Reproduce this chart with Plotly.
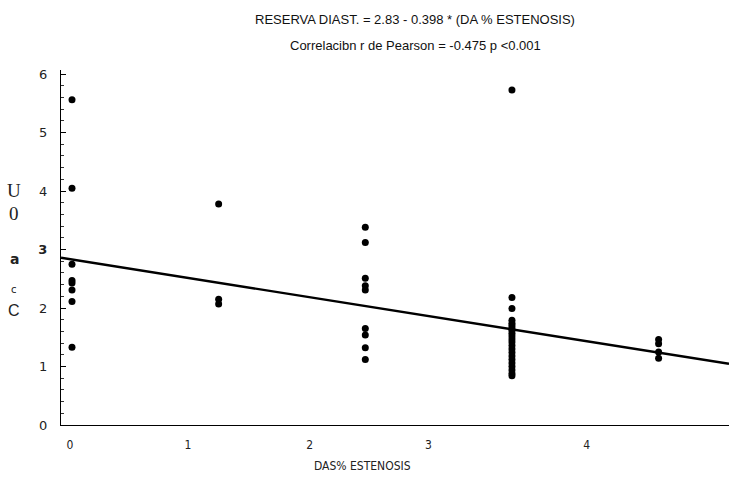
import plotly.graph_objects as go

# ---- data ----
das_categories = [0, 1, 2, 3, 4]
reserva_das0 = [5.56, 4.05, 2.75, 2.47, 2.43, 2.31, 2.11, 1.33]
reserva_das1 = [3.78, 2.15, 2.07]
reserva_das2 = [3.38, 3.12, 2.51, 2.38, 2.31, 1.65, 1.54, 1.32, 1.12]
reserva_das3 = [5.73, 2.18, 1.99, 1.79, 1.74, 1.70, 1.66, 1.62, 1.57, 1.52, 1.47,
                1.42, 1.36, 1.30, 1.24, 1.18, 1.12, 1.06, 1.00, 0.94, 0.88, 0.84]
reserva_das4 = [1.46, 1.39, 1.25, 1.14]
intercept = 2.83
slope = -0.398

x_tick_labels = ["0", "1", "2", "3", "4"]
y_tick_labels = ["0", "1", "2", "<b>3</b>", "4", "5", "6"]

# ---- layout helpers ----
x_range = [-0.075, 4.48]
y_range = [0, 6.07]
x_tick_positions = [-0.014, 0.79, 1.62, 2.43, 3.51]

groups = [reserva_das0, reserva_das1, reserva_das2, reserva_das3, reserva_das4]
xs, ys = [], []
for cat, vals in zip(das_categories, groups):
    xs += [cat] * len(vals)
    ys += vals

fig = go.Figure()
fig.add_trace(go.Scatter(
    x=xs, y=ys, mode="markers",
    marker=dict(color="black", size=7),
    showlegend=False, cliponaxis=False))
fig.add_trace(go.Scatter(
    x=x_range, y=[intercept + slope * v for v in x_range], mode="lines",
    line=dict(color="black", width=2.4), showlegend=False))

fig.update_layout(
    width=729, height=478,
    margin=dict(l=61, r=0, t=70, b=53),
    plot_bgcolor="white", paper_bgcolor="white",
    font=dict(family="Liberation Sans, Arial, sans-serif", color="#111", size=12),
    xaxis=dict(range=x_range, showgrid=False, zeroline=False,
               showline=True, linecolor="black", linewidth=1.2,
               tickmode="array", tickvals=x_tick_positions, ticktext=x_tick_labels,
               ticks="", ticklabelstandoff=8,
               tickfont=dict(family="DejaVu Sans Condensed, DejaVu Sans", size=12, color="#222")),
    yaxis=dict(range=y_range, showgrid=False, zeroline=False,
               showline=True, linecolor="black", linewidth=1.2,
               tickmode="array", tickvals=[0, 1, 2, 3, 4, 5, 6], ticktext=y_tick_labels,
               ticks="inside", ticklen=5, tickcolor="black", ticklabelstandoff=10,
               minor=dict(dtick=0.2, ticks="inside", ticklen=3, tickcolor="#333"),
               tickfont=dict(family="DejaVu Sans, sans-serif", size=13, color="#222")),
)

annos = [
    dict(text="RESERVA DIAST. = 2.83 - 0.398 * (DA % ESTENOSIS)", x=415, y=20, size=13),
    dict(text="Correlacibn r de Pearson = -0.475 p <0.001", x=415, y=45, size=13),
]
for a in annos:
    fig.add_annotation(text=a["text"], xref="paper", yref="paper",
                       x=(a["x"] - 61) / 668, y=(425 - a["y"]) / 355,
                       showarrow=False, xanchor="center", yanchor="middle",
                       font=dict(family="Liberation Sans, Arial", size=a["size"], color="#111"))

fig.add_annotation(text="DAS% ESTENOSIS", xref="paper", yref="paper",
                   x=(362 - 61) / 668, y=(425 - 466) / 355, showarrow=False,
                   xanchor="center", yanchor="middle",
                   font=dict(family="DejaVu Sans Condensed, DejaVu Sans", size=12, color="#222"))

# odd vertical axis-title glyphs
glyphs = [("U", 190, "Liberation Serif", 19), ("0", 213, "Liberation Serif", 19),
          ("<b>a</b>", 259, "DejaVu Sans", 14), ("c", 289, "DejaVu Sans", 10),
          ("C", 310, "Liberation Sans", 16)]
for t, py, fam, sz in glyphs:
    fig.add_annotation(text=t, xref="paper", yref="paper",
                       x=(14 - 61) / 668, y=(425 - py) / 355, showarrow=False,
                       xanchor="center", yanchor="middle",
                       font=dict(family=fam, size=sz, color="#222"))

fig.write_html("out.html")
